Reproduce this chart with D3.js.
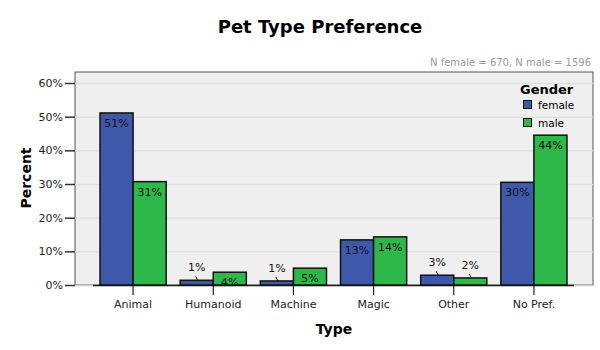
<!DOCTYPE html>
<html><head><meta charset="utf-8">
<script src="https://cdn.jsdelivr.net/npm/d3@7"></script>
<style>body{margin:0;background:#fff}svg{display:block}</style>
</head><body><svg id="c" width="600" height="350"></svg>
<script>
const categories = ["Animal","Humanoid","Machine","Magic","Other","No Pref."];
const series = ["female","male"];
const femaleValues = [51.1, 1.4, 1.2, 13.4, 2.9, 30.5];
const maleValues = [30.7, 3.8, 5.0, 14.3, 2.1, 44.5];
const femaleLabels = ["51%","1%","1%","13%","3%","30%"];
const maleLabels = ["31%","4%","5%","14%","2%","44%"];
const yTicks = [0,10,20,30,40,50,60];
const colors = {female:"#3f58aa", male:"#2fb84a"};

const font = "'DejaVu Sans', sans-serif";
const svg = d3.select("#c");
const plot = {left:75, top:72, right:593, bottom:285};
const x = d3.scaleBand().domain(categories).range([93, 574]).paddingInner(0.175).paddingOuter(0.0875);
const xs = d3.scaleBand().domain(series).range([0, x.bandwidth()]);
const y = d3.scaleLinear().domain([0, 60]).range([285, 83]);

// title
svg.append("text").attr("x", 320).attr("y", 33).attr("text-anchor","middle")
  .attr("font-family", font).attr("font-weight","bold").attr("font-size", 18).text("Pet Type Preference");
svg.append("text").attr("x", 591).attr("y", 66).attr("text-anchor","end")
  .attr("font-family", font).attr("font-size", 10).attr("fill","#999").text("N female = 670, N male = 1596");

// plot background
svg.append("rect").attr("x", plot.left).attr("y", plot.top).attr("width", plot.right-plot.left)
  .attr("height", plot.bottom-plot.top).attr("fill","#efefef").attr("stroke","#555").attr("stroke-width",1);
// gridlines
svg.append("g").selectAll("line").data(yTicks.filter(d=>d>0)).join("line")
  .attr("x1", plot.left).attr("x2", plot.right).attr("y1", d=>y(d)+0.5).attr("y2", d=>y(d)+0.5)
  .attr("stroke","#e0e0e0").attr("stroke-width",1.5);
// light baseline extent
svg.append("line").attr("x1",plot.left).attr("x2",plot.right).attr("y1",285.5).attr("y2",285.5)
  .attr("stroke","#cfcfcf").attr("stroke-width",1.5);

// y axis
const yAxis = d3.axisLeft(y).tickValues(yTicks).tickFormat(d=>d+"%").tickSize(10).tickPadding(2);
const ya = svg.append("g").attr("transform",`translate(${plot.left},0)`).call(yAxis);
ya.select(".domain").remove();
ya.selectAll(".tick line").attr("stroke","#333").attr("stroke-width",1.5);
ya.selectAll(".tick text").attr("font-family",font).attr("font-size",11).attr("fill","#222");

// x axis
const xAxis = d3.axisBottom(x).tickSize(0).tickPadding(0);
const xa = svg.append("g").attr("transform","translate(0,285)").call(xAxis);
xa.select(".domain").attr("d", `M${x.range()[0]},0.5H${x.range()[1]}`).attr("stroke","#222").attr("stroke-width",1.5);
xa.selectAll(".tick line").remove();
xa.selectAll(".tick").append("line").attr("y1",0).attr("y2",10).attr("stroke","#222").attr("stroke-width",1.2);
xa.selectAll(".tick text").attr("y", 23).attr("dy",0).attr("font-family",font).attr("font-size",11).attr("fill","#222");

// bars
const data = [];
categories.forEach((c,i)=>{
  data.push({cat:c, s:"female", v:femaleValues[i], label:femaleLabels[i]});
  data.push({cat:c, s:"male", v:maleValues[i], label:maleLabels[i]});
});
const g = svg.append("g");
g.selectAll("rect").data(data).join("rect")
  .attr("x", d=>x(d.cat)+xs(d.s)).attr("width", xs.bandwidth())
  .attr("y", d=>y(d.v)).attr("height", d=>y(0)-y(d.v))
  .attr("fill", d=>colors[d.s]).attr("stroke","#111").attr("stroke-width",1.5);

// labels
data.forEach(d=>{
  const cx = x(d.cat)+xs(d.s)+xs.bandwidth()/2;
  const h = y(0)-y(d.v);
  if (h >= 10) {
    svg.append("text").attr("x",cx).attr("y", y(d.v)+14).attr("text-anchor","middle")
      .attr("font-family",font).attr("font-size",11).attr("fill","#111").text(d.label);
  } else {
    svg.append("text").attr("x",cx).attr("y", y(d.v)-9).attr("text-anchor","middle")
      .attr("font-family",font).attr("font-size",11).attr("fill","#111").text(d.label);
    svg.append("line").attr("x1",cx-1).attr("x2",cx+1).attr("y1",y(d.v)-4).attr("y2",y(d.v))
      .attr("stroke","#111").attr("stroke-width",1);
  }
});

// axis titles
svg.append("text").attr("transform","translate(31,178) rotate(-90)").attr("text-anchor","middle")
  .attr("font-family",font).attr("font-weight","bold").attr("font-size",14).text("Percent");
svg.append("text").attr("x",334).attr("y",334).attr("text-anchor","middle")
  .attr("font-family",font).attr("font-weight","bold").attr("font-size",14).text("Type");

// legend
const lg = svg.append("g");
lg.append("text").attr("x",520).attr("y",94).attr("font-family",font).attr("font-weight","bold")
  .attr("font-size",13).text("Gender");
series.forEach((s,i)=>{
  lg.append("rect").attr("x",523.5).attr("y",100.5+i*18).attr("width",8).attr("height",8)
    .attr("fill",colors[s]).attr("stroke","#111").attr("stroke-width",1);
  lg.append("text").attr("x",538).attr("y",109+i*18).attr("font-family",font).attr("font-size",10.5).text(s);
});
</script></body></html>
